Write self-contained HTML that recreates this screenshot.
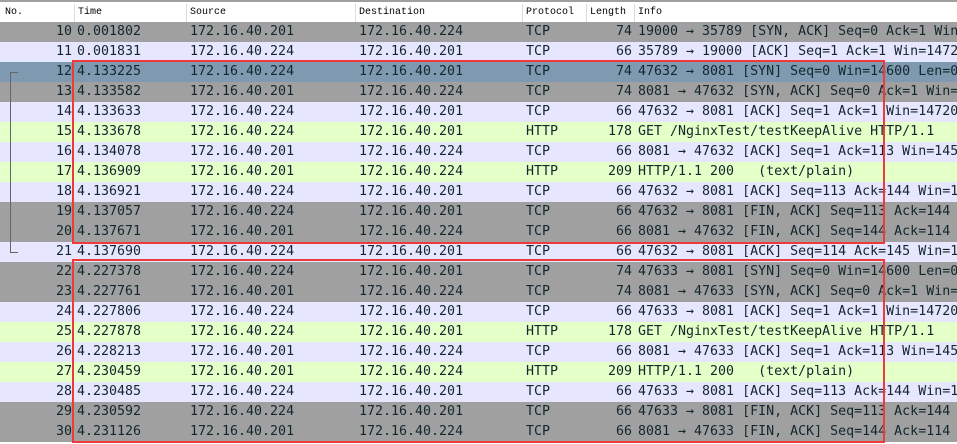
<!DOCTYPE html>
<html><head><meta charset="utf-8">
<style>
body{margin:0;width:957px;height:444px;overflow:hidden;background:#fff;position:relative;font-family:"DejaVu Sans Mono","Liberation Mono",monospace;}
.hdr{position:absolute;left:0;top:0;width:957px;height:22px;background:#fff;border-top:2px solid #a0a0a0;box-sizing:border-box;font-family:"Liberation Mono",monospace;font-size:10px;color:#000;}
.hdr span{position:absolute;top:5px;}
.sep{position:absolute;top:2px;width:1px;height:18px;background:#ddd;}
.row{position:absolute;left:0;width:957px;height:20px;font-size:13.3px;color:#12272e;white-space:pre;overflow:hidden;}
.row span{position:absolute;top:2px;}
.g{background:#a0a0a0}.l{background:#e7e6ff}.s{background:#7f9ab0}.h{background:#e4ffc7}
.box{position:absolute;border:2px solid #f03a3a;box-sizing:border-box;}
</style></head><body>
<div class="hdr">
<span style="left:5px">No.</span>
<div class="sep" style="left:74px"></div>
<span style="left:78px">Time</span>
<div class="sep" style="left:186px"></div>
<span style="left:190px">Source</span>
<div class="sep" style="left:355px"></div>
<span style="left:359px">Destination</span>
<div class="sep" style="left:522px"></div>
<span style="left:526px">Protocol</span>
<div class="sep" style="left:586px"></div>
<span style="left:590px">Length</span>
<div class="sep" style="left:634px"></div>
<span style="left:638px">Info</span>
</div>
<div id="rows"></div>
<div style="position:absolute;left:10px;top:72px;width:1px;height:180px;background:#666"></div>
<div style="position:absolute;left:10px;top:72px;width:8px;height:1px;background:#666"></div>
<div style="position:absolute;left:10px;top:252px;width:8px;height:1px;background:#666"></div>
<div class="box" style="left:72px;top:60px;width:813px;height:184px"></div>
<div class="box" style="left:72px;top:259px;width:813px;height:184px"></div>
<script>
const rows=[
["g","10","0.001802","172.16.40.201","172.16.40.224","TCP","74","19000 → 35789 [SYN, ACK] Seq=0 Ack=1 Win=14480 Len=0"],
["l","11","0.001831","172.16.40.224","172.16.40.201","TCP","66","35789 → 19000 [ACK] Seq=1 Ack=1 Win=14720"],
["s","12","4.133225","172.16.40.224","172.16.40.201","TCP","74","47632 → 8081 [SYN] Seq=0 Win=14600 Len=0"],
["g","13","4.133582","172.16.40.201","172.16.40.224","TCP","74","8081 → 47632 [SYN, ACK] Seq=0 Ack=1 Win=14480"],
["l","14","4.133633","172.16.40.224","172.16.40.201","TCP","66","47632 → 8081 [ACK] Seq=1 Ack=1 Win=14720"],
["h","15","4.133678","172.16.40.224","172.16.40.201","HTTP","178","GET /NginxTest/testKeepAlive HTTP/1.1"],
["l","16","4.134078","172.16.40.201","172.16.40.224","TCP","66","8081 → 47632 [ACK] Seq=1 Ack=113 Win=14592"],
["h","17","4.136909","172.16.40.201","172.16.40.224","HTTP","209","HTTP/1.1 200   (text/plain)"],
["l","18","4.136921","172.16.40.224","172.16.40.201","TCP","66","47632 → 8081 [ACK] Seq=113 Ack=144 Win=14720"],
["g","19","4.137057","172.16.40.224","172.16.40.201","TCP","66","47632 → 8081 [FIN, ACK] Seq=113 Ack=144"],
["g","20","4.137671","172.16.40.201","172.16.40.224","TCP","66","8081 → 47632 [FIN, ACK] Seq=144 Ack=114"],
["l","21","4.137690","172.16.40.224","172.16.40.201","TCP","66","47632 → 8081 [ACK] Seq=114 Ack=145 Win=14720"],
["g","22","4.227378","172.16.40.224","172.16.40.201","TCP","74","47633 → 8081 [SYN] Seq=0 Win=14600 Len=0"],
["g","23","4.227761","172.16.40.201","172.16.40.224","TCP","74","8081 → 47633 [SYN, ACK] Seq=0 Ack=1 Win=14480"],
["l","24","4.227806","172.16.40.224","172.16.40.201","TCP","66","47633 → 8081 [ACK] Seq=1 Ack=1 Win=14720"],
["h","25","4.227878","172.16.40.224","172.16.40.201","HTTP","178","GET /NginxTest/testKeepAlive HTTP/1.1"],
["l","26","4.228213","172.16.40.201","172.16.40.224","TCP","66","8081 → 47633 [ACK] Seq=1 Ack=113 Win=14592"],
["h","27","4.230459","172.16.40.201","172.16.40.224","HTTP","209","HTTP/1.1 200   (text/plain)"],
["l","28","4.230485","172.16.40.224","172.16.40.201","TCP","66","47633 → 8081 [ACK] Seq=113 Ack=144 Win=14720"],
["g","29","4.230592","172.16.40.224","172.16.40.201","TCP","66","47633 → 8081 [FIN, ACK] Seq=113 Ack=144"],
["g","30","4.231126","172.16.40.201","172.16.40.224","TCP","66","8081 → 47633 [FIN, ACK] Seq=144 Ack=114"]
];
const c=document.getElementById('rows');
rows.forEach((r,i)=>{
 const d=document.createElement('div');
 d.className='row '+r[0];
 d.style.top=(22+i*20)+'px';
 
 
 d.innerHTML='<span style="right:885px">'+r[1]+'</span><span style="left:77px">'+r[2]+'</span><span style="left:190px">'+r[3]+'</span><span style="left:359px">'+r[4]+'</span><span style="left:526px">'+r[5]+'</span><span style="right:325px">'+r[6]+'</span><span style="left:638px">'+r[7]+'</span>';
 c.appendChild(d);
});
</script>
</body></html>
